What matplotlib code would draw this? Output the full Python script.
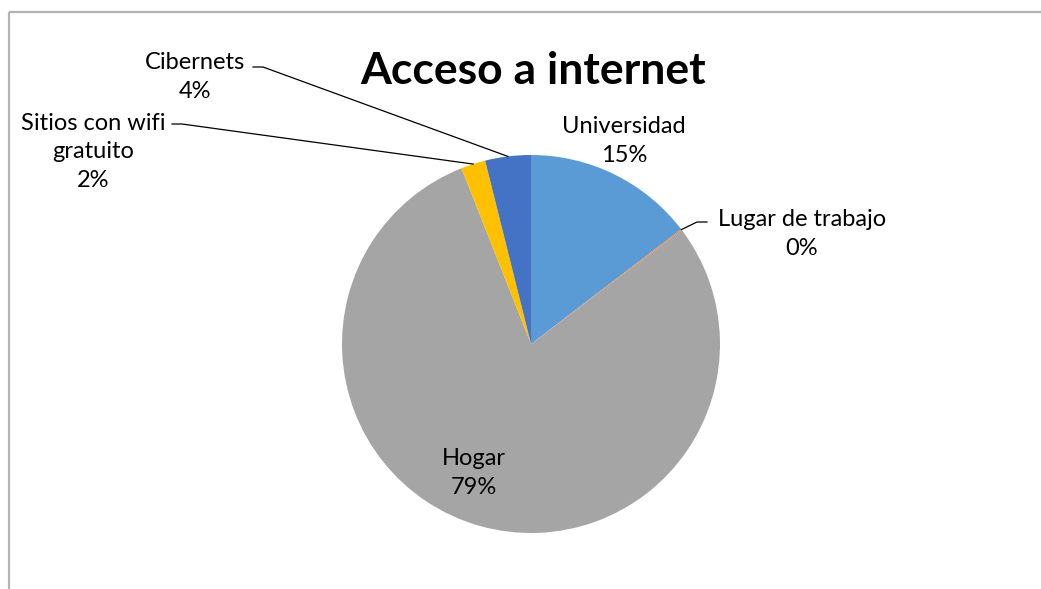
import numpy as np
import matplotlib.pyplot as plt

# acceso a internet (% de encuestados)
categorias = ["Universidad", "Lugar de trabajo", "Hogar", "Sitios con wifi\ngratuito", "Cibernets"]
valores = [14.6, 0.1, 79.3, 2.1, 3.9]
colores = ["#5B9BD5", "#ED7D31", "#A5A5A5", "#FFC000", "#4472C4"]

plt.rcParams['font.family'] = ['Lato', 'DejaVu Sans']

W, H = 1041, 589
fig = plt.figure(figsize=(W / 100, H / 100), dpi=100)
ax = fig.add_axes([0, 0, 1, 1])

cx, cy, r = 531, H - 344, 189
wedges, _ = ax.pie(valores, colors=colores, startangle=90, counterclock=False,
                   center=(cx, cy), radius=r, frame=True,
                   wedgeprops=dict(linewidth=0))
ax.set_xlim(0, W)
ax.set_ylim(0, H)
ax.set_aspect('equal')
ax.axis('off')

# marco del gráfico
ax.plot([9, 9], [0, H - 12], color="#B3B3B3", lw=1.6, solid_capstyle='butt')
ax.plot([9, W], [H - 12, H - 12], color="#B3B3B3", lw=1.6, solid_capstyle='butt')

ax.text(533, H - 71, "Acceso a internet", ha='center', va='center',
        fontsize=32, fontweight='bold', color='black')

total = sum(valores)
etiquetas = [f"{c}\n{round(v / total * 100):.0f}%" for c, v in zip(categorias, valores)]

# posiciones de las etiquetas (centro del texto) y extremo de la guía
pos_texto = {
    0: (624, 141),
    1: (802, 234),
    2: (474, 473),
    3: (93, 152),
    4: (195, 77),
}
guia = {
    1: ((707, 222), 'left'),
    3: ((172, 124), 'right'),
    4: ((253, 67), 'right'),
}

for i, w in enumerate(wedges):
    x, y = pos_texto[i]
    ax.text(x, H - y, etiquetas[i], ha='center', va='center', fontsize=17,
            color='black', linespacing=1.42)
    if i in guia:
        (gx, gy), lado = guia[i]
        ang = np.deg2rad((w.theta1 + w.theta2) / 2)
        px, py = cx + r * np.cos(ang), cy + r * np.sin(ang)
        dx = 10 if lado == 'right' else -10
        ax.plot([gx, gx + dx, px], [H - gy, H - gy, py], color='black', lw=0.9)

fig.savefig("out.png", dpi=100)
